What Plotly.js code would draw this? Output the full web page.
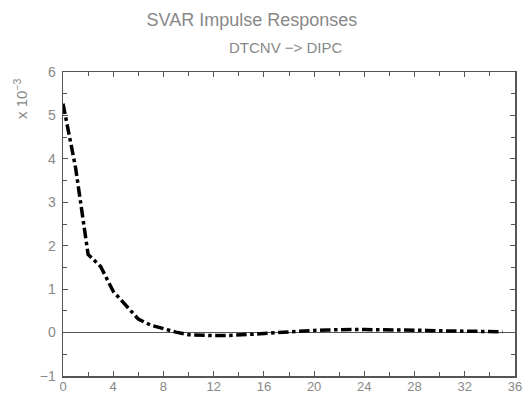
<!DOCTYPE html>
<html>
<head>
<meta charset="utf-8">
<script src="https://cdn.plot.ly/plotly-3.0.1.min.js"></script>
<style>html,body{margin:0;padding:0;background:#fff;}#chart{width:523px;height:394px;}</style>
</head>
<body>
<div id="chart"></div>
<script>
const horizons = [0,1,2,3,4,5,6,7,8,9,10,11,12,13,14,15,16,17,18,19,20,21,22,23,24,25,26,27,28,29,30,31,32,33,34,35];
const response = [5.27,3.8,1.8,1.52,0.95,0.62,0.31,0.17,0.08,0.01,-0.05,-0.07,-0.07,-0.07,-0.06,-0.04,-0.02,0.0,0.02,0.04,0.05,0.06,0.07,0.07,0.07,0.07,0.06,0.06,0.05,0.05,0.04,0.04,0.03,0.02,0.02,0.02];
const xTicks = [0,4,8,12,16,20,24,28,32,36];
const yTicks = [-1,0,1,2,3,4,5,6];
const mainTitle = 'SVAR Impulse Responses';
const subTitle = 'DTCNV \u2212> DIPC';
const yLabel = 'x 10<sup>\u22123</sup>';

const fontFam = 'Liberation Sans, Arial, sans-serif';
const axisColor = '#555';
const textColor = '#888';

const trace = {
  x: horizons, y: response, type: 'scatter', mode: 'lines',
  line: {color: '#000', width: 3.5, dash: 'dashdot'},
  hoverinfo: 'none'
};

const layout = {
  width: 523, height: 394,
  margin: {l: 63, r: 8, t: 72, b: 18},
  paper_bgcolor: '#fff', plot_bgcolor: '#fff',
  showlegend: false,
  font: {family: fontFam, color: textColor, size: 13},
  title: {text: mainTitle, font: {family: fontFam, size: 18, color: textColor},
          x: 252/523, xanchor: 'center', y: 1 - 20/394, yanchor: 'middle'},
  xaxis: {
    range: [0, 36], tickvals: xTicks, ticktext: xTicks.map(String),
    ticks: 'inside', ticklen: 5, tickwidth: 1, tickcolor: axisColor,
    showline: true, linecolor: axisColor, linewidth: 1.5, mirror: 'allticks',
    showgrid: false, zeroline: false, ticklabelstandoff: -2,
    tickfont: {family: fontFam, size: 13, color: textColor},
    minor: {dtick: 2, tick0: 0, ticks: 'inside', ticklen: 4, tickcolor: axisColor, showgrid: false},
    fixedrange: true
  },
  yaxis: {
    range: [-1, 6], tickvals: yTicks, ticktext: yTicks.map(v => v < 0 ? '\u2212' + Math.abs(v) : String(v)),
    ticks: 'inside', ticklen: 5, tickwidth: 1, tickcolor: axisColor,
    showline: true, linecolor: axisColor, linewidth: 1.5, mirror: 'allticks',
    showgrid: false, zeroline: true, zerolinecolor: axisColor, zerolinewidth: 1.5,
    ticklabelstandoff: 3,
    tickfont: {family: fontFam, size: 14, color: textColor},
    minor: {dtick: 0.5, tick0: 0, ticks: 'inside', ticklen: 4, tickcolor: axisColor, showgrid: false},
    fixedrange: true
  },
  annotations: [{
    text: subTitle, xref: 'paper', yref: 'paper',
    x: (286 - 63) / (515 - 63), y: 1 + (72 - 48) / (376 - 72),
    xanchor: 'center', yanchor: 'middle', showarrow: false,
    font: {family: fontFam, size: 15, color: textColor}
  }, {
    text: yLabel, xref: 'paper', yref: 'paper',
    x: (20 - 63) / (515 - 63), y: 1 - (99 - 72) / (376 - 72),
    xanchor: 'center', yanchor: 'middle', showarrow: false, textangle: -90,
    font: {family: fontFam, size: 15, color: textColor}
  }]
};

Plotly.newPlot('chart', [trace], layout, {displayModeBar: false, staticPlot: true});
</script>
</body>
</html>
